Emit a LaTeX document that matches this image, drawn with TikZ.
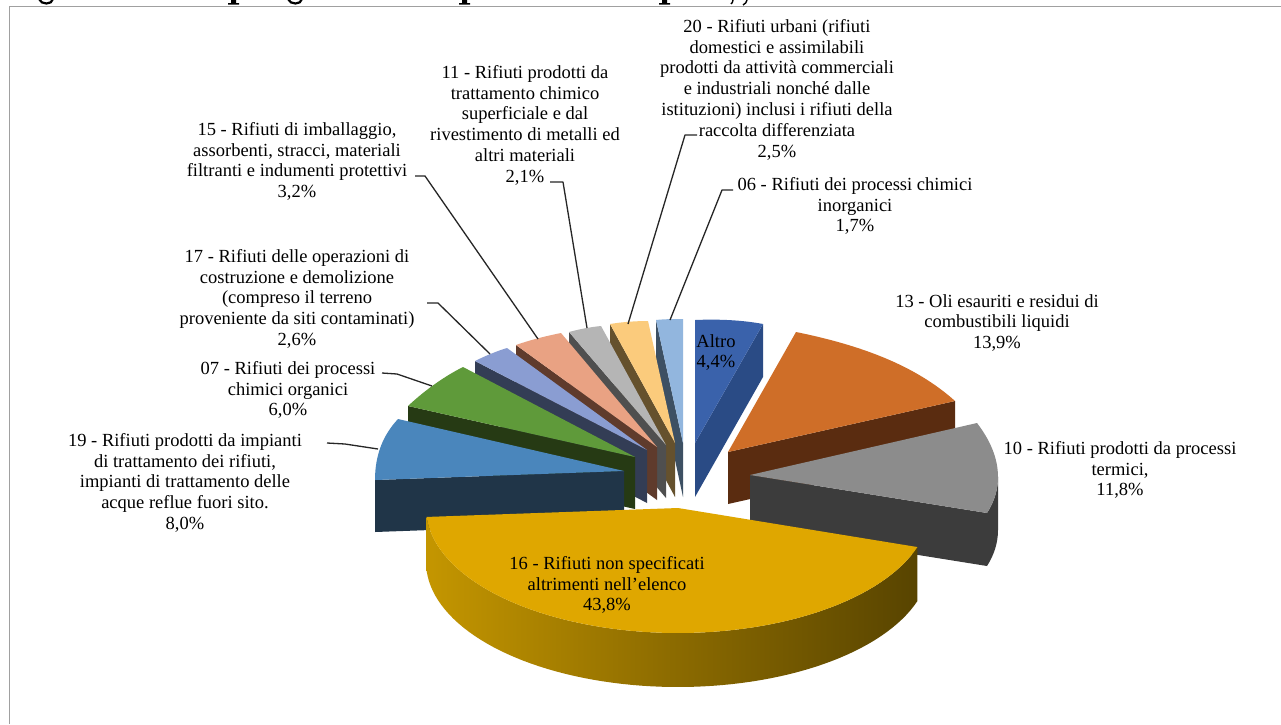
\documentclass[tikz,border=0pt]{standalone}
\usepackage{fontspec}
\setmainfont{Liberation Serif}
\definecolor{frameg}{HTML}{A0A0A0}
\definecolor{topAltro}{HTML}{3A62AB}\definecolor{sideAltro}{HTML}{2A4B85}
\definecolor{topOr}{HTML}{CF6E28}\definecolor{sideOr}{HTML}{5A2C10}
\definecolor{topGr}{HTML}{8C8C8C}\definecolor{sideGr}{HTML}{3C3C3C}
\definecolor{topYe}{HTML}{DFA700}
\definecolor{topBl}{HTML}{4A86BC}\definecolor{sideBl}{HTML}{203548}
\definecolor{topGn}{HTML}{5F9A3A}\definecolor{sideGn}{HTML}{263A14}
\definecolor{topPe}{HTML}{8A9DD2}\definecolor{sidePe}{HTML}{333D55}
\definecolor{topSa}{HTML}{E9A283}\definecolor{sideSa}{HTML}{5F3B2C}
\definecolor{topLg}{HTML}{B5B5B5}\definecolor{sideLg}{HTML}{4F4F4F}
\definecolor{topLy}{HTML}{FBCB7C}\definecolor{sideLy}{HTML}{65512D}
\definecolor{topLb}{HTML}{92B6DE}\definecolor{sideLb}{HTML}{3D5063}
\tikzset{
  lab/.style={align=center,inner sep=0pt,font=\fontsize{18.5}{20.8}\selectfont,text=black},
  leader/.style={draw=black!85,line width=1.3pt,line join=round},
}
\begin{document}
\begin{tikzpicture}[x=1pt,y=-1pt]
\useasboundingbox (0,0) rectangle (1281,724);
\fill[white] (0,0) rectangle (1281,724);
% cut-off heading descenders
\draw[black,line width=2.2pt] (39,-1) .. controls (41,5) and (52,5) .. (53,-1);
\draw[black,line width=2.2pt] (288,-1) .. controls (290,5) and (301,5) .. (302,-1);
\fill[black] (231,0) rectangle (236,3) (228,3) rectangle (239,4.5);
\fill[black] (462,0) rectangle (467,3) (459,3) rectangle (470,4.5);
\fill[black] (662,0) rectangle (667,3) (659,3) rectangle (670,4.5);
\draw[black,line width=1.4pt] (747,0) .. controls (747,2) and (745,4) .. (743,5);
\draw[black,line width=1.4pt] (733,0) .. controls (733,2) and (732,3) .. (731,4);
% frame
\draw[frameg,line width=1.3pt] (9.5,724) -- (9.5,6.5) -- (1281,6.5);
% small slices, right to left
\fill[sideLb] (656,320) -- (683,443) -- (683,497) -- (656,372) -- cycle;
\fill[topLb] (656,320) .. controls (665,319) and (675,319) .. (683,319) -- (683,443) -- cycle;
\fill[sideLy] (610,324) -- (675,443) -- (675,497) -- (610,376) -- cycle;
\fill[topLy] (610,324) .. controls (622,322) and (636,321) .. (648,321) -- (675,443) -- cycle;
\fill[sideLg] (569,332) -- (666,445) -- (666,498) -- (569,384) -- cycle;
\fill[topLg] (569,332) .. controls (580,329) and (591,327) .. (601,326) -- (666,445) -- cycle;
\fill[sideSa] (516,345) -- (657,447) -- (657,500) -- (516,397) -- cycle;
\fill[topSa] (516,345) .. controls (530,340) and (546,336) .. (561,333) -- (657,447) -- cycle;
\fill[sidePe] (475,361) -- (647,450) -- (647,503) -- (475,413) -- cycle;
\fill[topPe] (475,361) .. controls (485,356) and (497,351) .. (507,348) -- (647,450) -- cycle;
\fill[sideGn] (408,406) -- (635,457) -- (635,509) -- (408,458) -- cycle;
\fill[topGn] (408,406) .. controls (425,390) and (445,376) .. (463,367) -- (635,457) -- cycle;
\fill[sideBl] (375,480) -- (624,471) -- (624,523) -- (375,532) -- cycle;
\fill[topBl] (375,480) .. controls (375,455) and (383,435) .. (398,419) -- (624,471) -- cycle;
% Altro
\fill[sideAltro] (763,324) -- (763,377) -- (695,497) -- (695,443) -- cycle;
\fill[topAltro] (695,320) .. controls (718,319) and (742,320) .. (763,324) -- (695,443) -- cycle;
% orange
\fill[sideOr] (728,452) -- (955,401) -- (955,453) -- (728,504) -- cycle;
\fill[topOr] (796,332) .. controls (860,345) and (915,365) .. (955,401) -- (728,452) -- cycle;
% grey
\fill[sideGr] (750,475) -- (987,513) .. controls (994,502) and (998,490) .. (998,477) -- (998,530) .. controls (998,543) and (994,555) .. (987,566) -- (750,528) -- cycle;
\fill[topGr] (977,423) .. controls (990,440) and (998,458) .. (998,477) .. controls (998,490) and (994,502) .. (987,513) -- (750,475) -- cycle;
% main slice
\shade[left color={rgb,255:red,196;green,150;blue,0},right color={rgb,255:red,88;green,68;blue,0},middle color={rgb,255:red,140;green,107;blue,0}]
  plot[domain=18.2:175.9,samples=70] ({678+252*cos(\x)},{508+125*sin(\x)})
  -- plot[domain=175.9:18.2,samples=70] ({678+252*cos(\x)},{562+125*sin(\x)}) -- cycle;
\fill[topYe] (678,508) -- plot[domain=18.2:175.9,samples=70] ({678+252*cos(\x)},{508+125*sin(\x)}) -- cycle;
% labels
\node[lab,anchor=north] (l20) at (777,19) {20 - Rifiuti urbani (rifiuti\\domestici e assimilabili\\prodotti da attività commerciali\\e industriali nonché dalle\\istituzioni) inclusi i rifiuti della\\raccolta differenziata\\2,5\%};
\node[lab,anchor=north] (l11) at (525,65) {11 - Rifiuti prodotti da\\trattamento chimico\\superficiale e dal\\rivestimento di metalli ed\\altri materiali\\2,1\%};
\node[lab,anchor=north] (l15) at (297,122) {15 - Rifiuti di imballaggio,\\assorbenti, stracci, materiali\\filtranti e indumenti protettivi\\3,2\%};
\node[lab,anchor=north] (l17) at (297,249) {17 - Rifiuti delle operazioni di\\costruzione e demolizione\\(compreso il terreno\\proveniente da siti contaminati)\\2,6\%};
\node[lab,anchor=north] (l07) at (288,361) {07 - Rifiuti dei processi\\chimici organici\\6,0\%};
\node[lab,anchor=north] (l19) at (185,433) {19 - Rifiuti prodotti da impianti\\di trattamento dei rifiuti,\\impianti di trattamento delle\\acque reflue fuori sito.\\8,0\%};
\node[lab,anchor=north] (l06) at (855,177) {06 - Rifiuti dei processi chimici\\inorganici\\1,7\%};
\node[lab,anchor=north] (l13) at (997,294) {13 - Oli esauriti e residui di\\combustibili liquidi\\13,9\%};
\node[lab,anchor=north] (l10) at (1120,441) {10 - Rifiuti prodotti da processi\\termici,\\11,8\%};
\node[lab,anchor=north] (l16) at (607,556) {16 - Rifiuti non specificati\\altrimenti nell’elenco\\43,8\%};
\node[lab,anchor=north] (lA) at (716,334) {Altro\\4,4\%};
% leader ends
\coordinate (e20) at (628,324); \coordinate (k20) at (685,135); \coordinate (s20) at (697,135);
\coordinate (e06) at (670,320); \coordinate (k06) at (722,190); \coordinate (s06) at (733,190);
\coordinate (e11) at (587,328); \coordinate (k11) at (563,182); \coordinate (s11) at (550,182);
\coordinate (e15) at (538,339); \coordinate (k15) at (425,176); \coordinate (s15) at (415,176);
\coordinate (e17) at (490,354); \coordinate (k17) at (438,303); \coordinate (s17) at (427,303);
\coordinate (e07) at (432,386); \coordinate (k07) at (397,374); \coordinate (s07) at (382,373);
\coordinate (e19) at (378,449); \coordinate (k19) at (345,444); \coordinate (s19) at (327,443);
\foreach \n in {20,06,11,15,17,07,19}{\draw[leader] (s\n) -- (k\n) -- (e\n);}
\end{tikzpicture}
\end{document}
